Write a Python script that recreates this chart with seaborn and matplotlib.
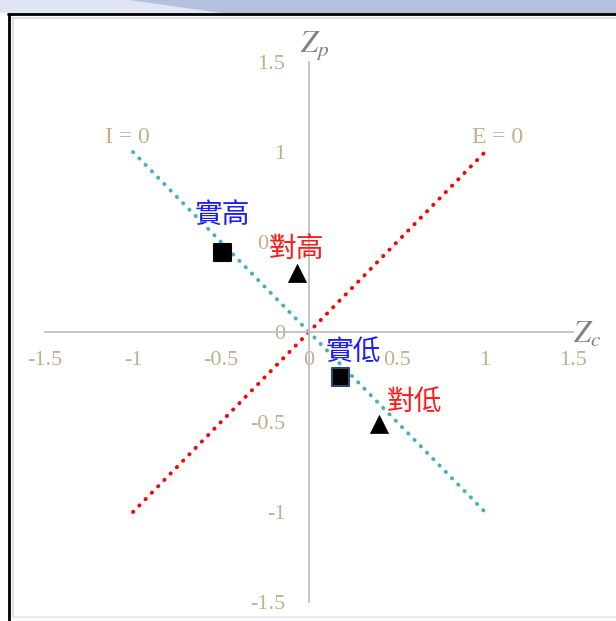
import matplotlib
matplotlib.use("Agg")
import matplotlib.pyplot as plt
import seaborn as sns
from matplotlib.patches import Rectangle, Polygon
from matplotlib.lines import Line2D

# reference lines
i_line_x = [-1, 1]
i_line_y = [1, -1]
e_line_x = [-1, 1]
e_line_y = [-1, 1]

# points
square_x = [-0.49, 0.18]
square_y = [0.44, -0.25]
triangle_x = [-0.07, 0.40]
triangle_y = [0.33, -0.51]

# point labels
label_text = ["實高", "對高", "實低", "對低"]
label_x = [-0.49, -0.07, 0.25, 0.60]
label_y = [0.65, 0.46, -0.11, -0.39]
label_color = ["#1a1aff", "#ff1a1a", "#1a1aff", "#ff1a1a"]

ticks = [-1.5, -1, -0.5, 0, 0.5, 1, 1.5]
tick_labels = ["-1.5", "-1", "-0.5", "0", "0.5", "1", "1.5"]

sns.set_style("white")
plt.rcParams["font.family"] = ["Liberation Serif", "Noto Sans CJK TC", "DejaVu Sans"]
plt.rcParams["mathtext.fontset"] = "stix"

tan = "#bdb28c"
axis_gray = "#c0c0c0"

fig = plt.figure(figsize=(6.16, 6.21), dpi=100)

# page decoration: banner and frame
fig.patches.append(Rectangle((0, 1 - 13 / 621), 1, 13 / 621, transform=fig.transFigure,
                             facecolor="#b3c1df", edgecolor="none", zorder=0))
fig.patches.append(Polygon([(0, 1), (0.21, 1), (0.36, 1 - 13 / 621), (0, 1 - 13 / 621)],
                           closed=True, transform=fig.transFigure,
                           facecolor="#dfe5f2", edgecolor="none", zorder=0))
fig.lines.append(Line2D([8 / 616, 1], [1 - 14 / 621, 1 - 14 / 621], transform=fig.transFigure,
                        color="black", lw=2))
fig.lines.append(Line2D([9 / 616, 9 / 616], [0, 1 - 14 / 621], transform=fig.transFigure,
                        color="black", lw=2))
fig.lines.append(Line2D([12 / 616, 1], [1 - 18 / 621, 1 - 18 / 621], transform=fig.transFigure,
                        color="#dadada", lw=1.2))
fig.lines.append(Line2D([12.5 / 616, 12.5 / 616], [4 / 621, 1 - 18 / 621], transform=fig.transFigure,
                        color="#dadada", lw=1.2))
fig.lines.append(Line2D([12 / 616, 1], [4 / 621, 4 / 621], transform=fig.transFigure,
                        color="#e6e6e6", lw=1.2))

ax = fig.add_axes([45 / 616, 19 / 621, 528 / 616, 540 / 621])
ax.patch.set_alpha(0)

sns.lineplot(x=i_line_x, y=i_line_y, ax=ax, color="#4bacc6", lw=2.8,
             linestyle=(0, (0.1, 2.2)), dash_capstyle="round", zorder=2)
sns.lineplot(x=e_line_x, y=e_line_y, ax=ax, color="#ff0000", lw=2.8,
             linestyle=(0, (0.1, 2.2)), dash_capstyle="round", zorder=2)

sns.scatterplot(x=square_x, y=square_y, ax=ax, marker="s", s=150, color="black",
                edgecolor=["black", "#2b4a6e"], linewidth=1.5, zorder=4)
sns.scatterplot(x=triangle_x, y=triangle_y, ax=ax, marker="^", s=170, color="black",
                edgecolor="black", linewidth=0.5, zorder=4)

for t, x, y, c in zip(label_text, label_x, label_y, label_color):
    ax.text(x, y, t, color=c, fontsize=20, ha="center", va="center",
            family=["Noto Sans CJK TC", "DejaVu Sans"], zorder=5)

ax.text(-1.03, 1.08, "I = 0", color=tan, fontsize=17, ha="center", va="center")
ax.text(1.07, 1.08, "E = 0", color=tan, fontsize=17, ha="center", va="center")
ax.text(-0.05, 1.59, "$Z_p$", color="#808080", fontsize=22, ha="left", va="center")
ax.text(1.5, -0.02, "$Z_c$", color="#808080", fontsize=22, ha="left", va="center")

ax.set_xlim(-1.5, 1.5)
ax.set_ylim(-1.5, 1.5)
ax.spines["left"].set_position(("data", 0))
ax.spines["bottom"].set_position(("data", 0))
ax.spines["right"].set_visible(False)
ax.spines["top"].set_visible(False)
for s in ["left", "bottom"]:
    ax.spines[s].set_color(axis_gray)
    ax.spines[s].set_linewidth(1.3)

ax.set_xticks(ticks)
ax.set_xticklabels(tick_labels)
ax.set_yticks(ticks)
ax.set_yticklabels(tick_labels)
ax.tick_params(direction="in", length=5, width=1.2, color=axis_gray,
               labelcolor=tan, labelsize=16)
ax.tick_params(axis="x", pad=14)
ax.tick_params(axis="y", pad=17)
ax.set_xlabel("")
ax.set_ylabel("")

fig.savefig("out.png", dpi=100)
